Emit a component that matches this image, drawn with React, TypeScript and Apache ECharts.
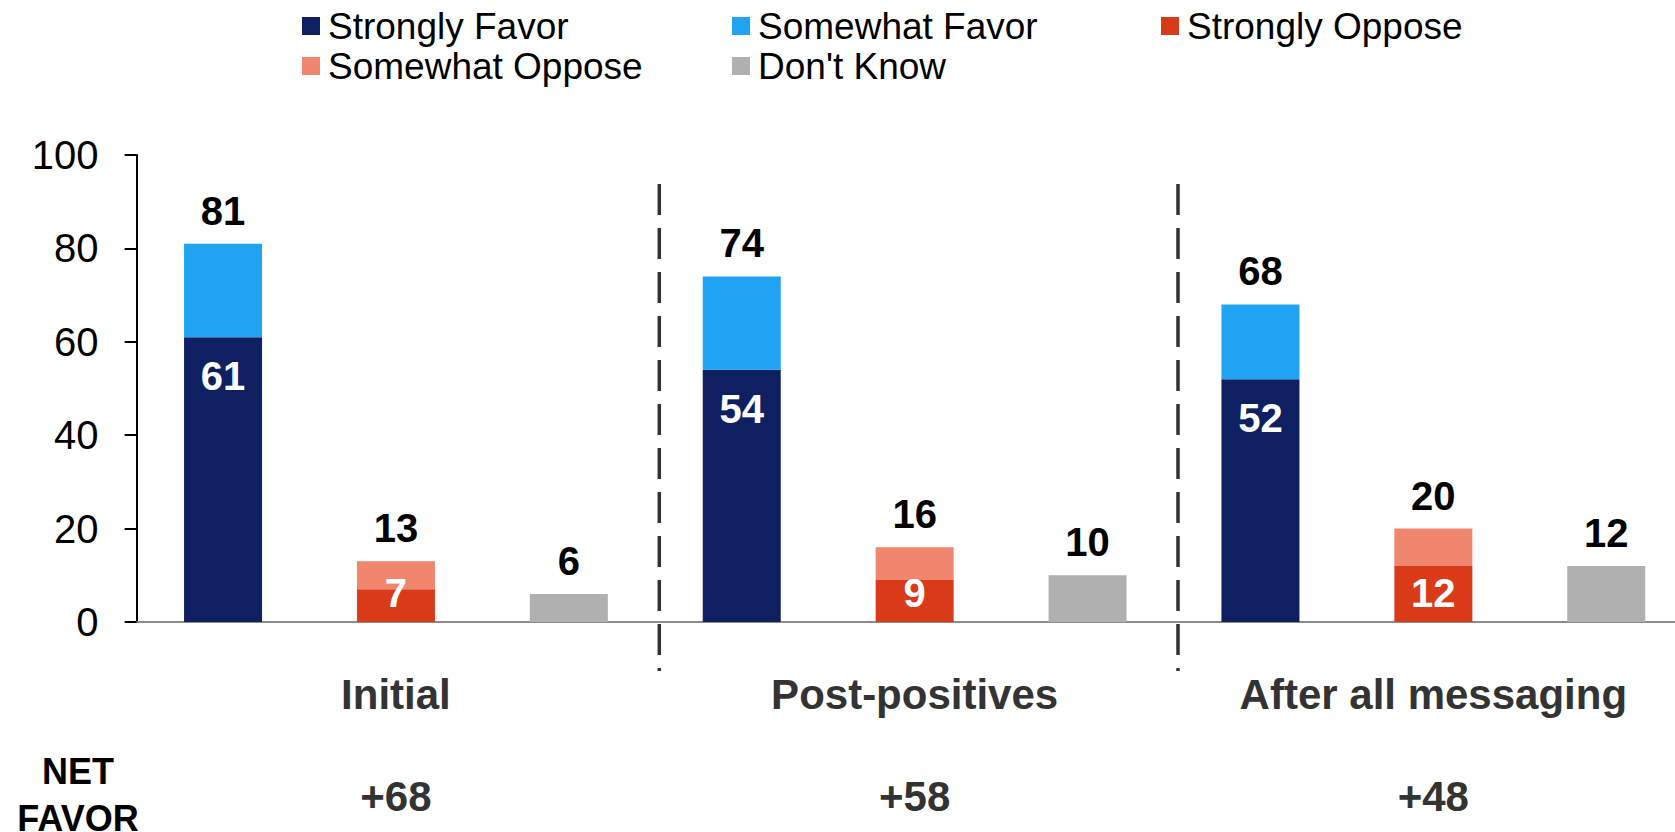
import React, { useEffect, useRef } from "react";
import * as echarts from "echarts";

const groupLabels = ["Initial", "Post-positives", "After all messaging"];
const netFavor = ["+68", "+58", "+48"];
const strongFavor = [61, 54, 52];
const somewhatFavor = [20, 20, 16];
const strongOppose = [7, 9, 12];
const somewhatOppose = [6, 7, 8];
const dontKnow = [6, 10, 12];
const yTicks = { min: 0, max: 100, interval: 20 };

const COLORS = {
  strongFavor: "#0F2062",
  somewhatFavor: "#20A3F2",
  strongOppose: "#D93A18",
  somewhatOppose: "#F0866D",
  dontKnow: "#B0B0B0",
};

const FONT = "Arial, 'Liberation Sans', Helvetica, sans-serif";
const SLOTS = 3; // bars per group

function slotData(values: number[], offset: number) {
  const out: (number | string)[] = [];
  values.forEach((v) => {
    for (let s = 0; s < SLOTS; s++) out.push(s === offset ? v : "-");
  });
  return out;
}

function slotLabels(labels: string[], offset: number) {
  const out: string[] = [];
  labels.forEach((l) => {
    for (let s = 0; s < SLOTS; s++) out.push(s === offset ? l : "");
  });
  return out;
}

const CHART_W = 1710;
const CHART_H = 832;

export default function App() {
  const ref = useRef<HTMLDivElement>(null);

  useEffect(() => {
    if (!ref.current) return;
    const chart = echarts.init(ref.current, null, { renderer: "svg" });

    const gridLeft = 136.6;
    const plotRightEdge = 1692.7;
    const gridRight = CHART_W - plotRightEdge;
    const gridTop = 155;
    const gridBottom = 210;
    const plotW = plotRightEdge - gridLeft;
    const nCats = groupLabels.length * SLOTS;
    const catW = plotW / nCats;

    const favorTotals = strongFavor.map((v, i) => v + somewhatFavor[i]);
    const opposeTotals = strongOppose.map((v, i) => v + somewhatOppose[i]);

    const topLabel = {
      show: true,
      position: "top" as const,
      distance: 13,
      fontFamily: FONT,
      fontSize: 40,
      lineHeight: 40,
      fontWeight: "bold" as const,
      color: "#000",
    };
    const innerLabel = {
      show: true,
      fontFamily: FONT,
      fontSize: 40,
      lineHeight: 40,
      fontWeight: "bold" as const,
      color: "#fff",
    };

    const legendItem = (name: string, left: number, top: number) => ({
      data: [name],
      left,
      top,
      padding: 0,
      itemWidth: 18,
      itemHeight: 18,
      icon: "rect",
      selectedMode: false,
      textStyle: {
        fontFamily: FONT,
        fontSize: 37,
        lineHeight: 40,
        color: "#000",
        padding: [0, 0, 0, 3],
      },
    });

    const sepX = [3, 6].map((k) => gridLeft + k * catW + 4);
    const sepStyle = {
      stroke: "#333",
      lineWidth: 3.5,
      lineDash: [31, 13],
    };

    const option: any = {
      animation: false,
      backgroundColor: "#fff",
      legend: [
        legendItem("Strongly Favor", 302, 6),
        legendItem("Somewhat Favor", 732, 6),
        legendItem("Strongly Oppose", 1161, 6),
        legendItem("Somewhat Oppose", 302, 46),
        legendItem("Don't Know", 732, 46),
      ],
      grid: {
        left: gridLeft,
        right: gridRight,
        top: gridTop,
        bottom: gridBottom,
        containLabel: false,
      },
      xAxis: [
        {
          type: "category",
          data: slotLabels(groupLabels, 1),
          axisLine: { show: true, lineStyle: { color: "#8C8C8C", width: 2 } },
          axisTick: { show: false },
          axisLabel: {
            interval: 0,
            margin: 51,
            fontFamily: FONT,
            fontSize: 42,
            lineHeight: 42,
            fontWeight: "bold",
            color: "#333",
          },
        },
        {
          type: "category",
          position: "bottom",
          data: slotLabels(netFavor, 1),
          axisLine: { show: false },
          axisTick: { show: false },
          axisLabel: {
            interval: 0,
            margin: 153,
            fontFamily: FONT,
            fontSize: 42,
            lineHeight: 42,
            fontWeight: "bold",
            color: "#333",
          },
        },
      ],
      yAxis: {
        type: "value",
        min: yTicks.min,
        max: yTicks.max,
        interval: yTicks.interval,
        axisLine: { show: true, lineStyle: { color: "#000", width: 2 } },
        axisTick: { show: true, length: 12, lineStyle: { color: "#000", width: 2 } },
        splitLine: { show: false },
        axisLabel: {
          margin: 38,
          fontFamily: FONT,
          fontSize: 40,
          color: "#000",
        },
      },
      series: [
        {
          name: "Strongly Favor",
          type: "bar",
          stack: "all",
          barWidth: 78,
          data: slotData(strongFavor, 0),
          itemStyle: { color: COLORS.strongFavor },
          label: { ...innerLabel, position: "insideTop", distance: 19 },
        },
        {
          name: "Somewhat Favor",
          type: "bar",
          stack: "all",
          barWidth: 78,
          data: slotData(somewhatFavor, 0),
          itemStyle: { color: COLORS.somewhatFavor },
          label: {
            ...topLabel,
            formatter: (p: any) => String(favorTotals[Math.floor(p.dataIndex / SLOTS)]),
          },
        },
        {
          name: "Strongly Oppose",
          type: "bar",
          stack: "all",
          barWidth: 78,
          data: slotData(strongOppose, 1),
          itemStyle: { color: COLORS.strongOppose },
          label: { ...innerLabel, position: "insideBottom", distance: 9 },
        },
        {
          name: "Somewhat Oppose",
          type: "bar",
          stack: "all",
          barWidth: 78,
          data: slotData(somewhatOppose, 1),
          itemStyle: { color: COLORS.somewhatOppose },
          label: {
            ...topLabel,
            formatter: (p: any) => String(opposeTotals[Math.floor(p.dataIndex / SLOTS)]),
          },
        },
        {
          name: "Don't Know",
          type: "bar",
          stack: "all",
          barWidth: 78,
          data: slotData(dontKnow, 2),
          itemStyle: { color: COLORS.dontKnow },
          label: { ...topLabel },
        },
      ],
      graphic: [
        ...sepX.map((x) => ({
          type: "line",
          z: 100,
          shape: { x1: x, y1: 184, x2: x, y2: 671 },
          style: sepStyle,
        })),
        {
          type: "text",
          x: 78,
          y: 771.5,
          style: {
            text: "NET",
            fontFamily: FONT,
            fontSize: 36,
            fontWeight: "bold",
            fill: "#000",
            align: "center",
            verticalAlign: "middle",
          },
        },
        {
          type: "text",
          x: 78,
          y: 818.5,
          style: {
            text: "FAVOR",
            fontFamily: FONT,
            fontSize: 36,
            fontWeight: "bold",
            fill: "#000",
            align: "center",
            verticalAlign: "middle",
          },
        },
      ],
    };

    chart.setOption(option);
    return () => chart.dispose();
  }, []);

  return (
    <div
      style={{
        position: "absolute",
        left: 0,
        top: 0,
        width: 1675,
        height: 832,
        overflow: "hidden",
      }}
    >
      <div ref={ref} style={{ width: CHART_W, height: CHART_H }} />
    </div>
  );
}
